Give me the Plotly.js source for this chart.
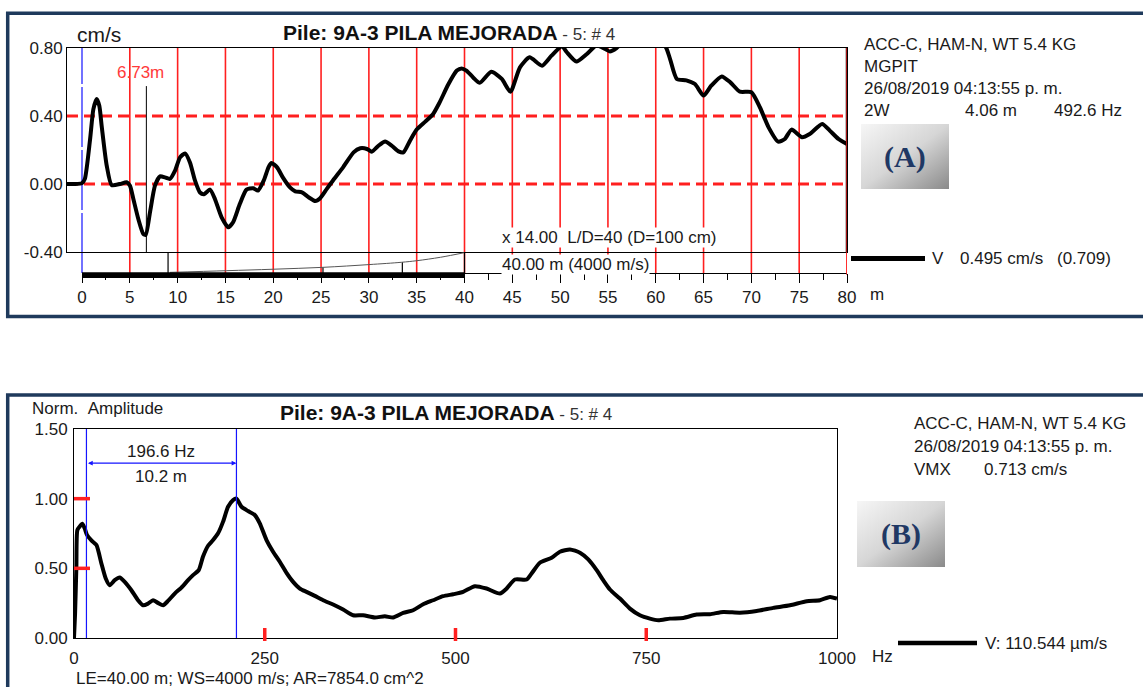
<!DOCTYPE html>
<html><head><meta charset="utf-8">
<script src="https://cdn.plot.ly/plotly-3.0.1.min.js"></script>
<style>html,body{margin:0;padding:0;background:#fff;overflow:hidden}#chart{width:1143px;height:687px}</style>
</head><body><div id="chart"></div>
<script>
// ---------- DATA: chart A (velocity vs depth) ----------
const distA = [-1.57,-0.8,0,0.3,0.84,1.19,1.53,1.81,2.06,2.58,3.1,3.97,4.67,5.02,5.37,5.89,6.41,6.66,7.11,7.63,8.16,8.68,9.2,9.73,10.25,10.77,11.29,11.82,12.34,12.76,13.39,13.9,14.6,15.3,15.8,16.5,17.2,17.9,18.4,19.0,19.5,19.8,20.4,21.0,21.75,22.3,23.0,23.7,24.4,24.9,25.6,26.3,27.3,28.4,29.1,29.8,30.3,31.0,31.7,32.4,33.1,33.6,34.3,35.0,35.9,36.7,37.4,38.3,39.2,39.7,40.2,40.9,41.6,42.8,43.9,44.8,45.8,46.8,48.1,49.1,50.2,50.7,51.7,52.8,53.8,54.7,55.2,55.9,57,58.5,60,61.1,61.5,62.2,63.2,64.1,65.0,65.8,66.9,67.8,68.8,70.0,70.9,71.8,72.8,73.5,74.2,75.3,76.1,77.4,78.2,79.1,80];
const velA = [0,0,0.005,0.03,0.26,0.44,0.50,0.46,0.34,0.11,-0.006,0.0,0.01,-0.01,-0.088,-0.206,-0.294,-0.30,-0.167,-0.01,0.045,0.039,0.03,0.078,0.157,0.18,0.127,0.02,-0.05,-0.06,-0.033,-0.088,-0.196,-0.255,-0.225,-0.118,-0.033,-0.025,-0.039,0.02,0.098,0.124,0.098,0.039,-0.02,-0.043,-0.049,-0.078,-0.10,-0.084,-0.029,0.025,0.098,0.186,0.21,0.206,0.19,0.225,0.25,0.225,0.192,0.186,0.255,0.32,0.367,0.41,0.48,0.585,0.667,0.68,0.667,0.627,0.595,0.66,0.618,0.543,0.686,0.745,0.696,0.755,0.81,0.775,0.72,0.765,0.815,0.794,0.78,0.80,0.86,0.90,0.88,0.80,0.735,0.618,0.61,0.588,0.52,0.578,0.633,0.598,0.543,0.54,0.45,0.333,0.249,0.265,0.32,0.275,0.294,0.353,0.314,0.265,0.235];
// amplification curve in the ruler strip (relative height 0..1)
const ampDist = [9.2,15.1,20,25.2,30,33.4,35,37.5,40];
const ampCurve = [0.03,0.11,0.18,0.27,0.40,0.51,0.585,0.75,0.97];
const gridA = [5,10,15,20,25,30,35,40,45,50,55,60,65,70,75,80];
const refLinesA = [0, 0.4];
const yTicksA = [-0.4, 0, 0.4, 0.8];
const yTickTextA = ['-0.40','0.00','0.40','0.80'];
const markerA = 6.73;           // depth marker
const markerTopA = 0.576;
const pileLenA = [0, 40];        // toe bar
const rulerMarks = [[9.0,1.0],[25.2,0.25],[33.5,0.5],[40,1.0]];

// ---------- DATA: chart B (normalized spectrum) ----------
const freqB = [0,1.4,3.1,4.4,7.5,11,14,17,22.8,29.4,35.9,41.6,46.8,53.4,59.9,66.5,75.2,83.9,90.5,97,103.6,110,116.7,123.2,132,140.8,149.5,156,163.5,169,175.7,182.3,188.8,195.4,201.9,208.5,212.9,219.5,228.2,236.9,243.5,252.3,260.9,269.7,278.5,287.2,296,304.7,315.6,326.5,339.6,352.7,365.8,378.9,394.2,407.4,418.3,431.4,444.5,457.6,470.7,483.8,497,510,525.4,540.7,558.2,567,577.8,593.2,599.7,610.6,626,636.9,650,663.1,674,685,693.6,702.4,715.5,728.6,741.7,754.8,765.7,781,798.5,816,833.5,850.9,872.8,894.7,916.5,938.4,960.3,977.7,990.8,1000];
const ampB = [0,0.175,0.51,0.775,0.80,0.82,0.787,0.74,0.70,0.667,0.535,0.427,0.379,0.415,0.434,0.403,0.343,0.271,0.235,0.247,0.271,0.252,0.235,0.266,0.319,0.362,0.415,0.451,0.487,0.583,0.662,0.703,0.751,0.835,0.942,0.99,1.0,0.942,0.911,0.883,0.823,0.703,0.619,0.547,0.468,0.403,0.355,0.331,0.302,0.271,0.24,0.204,0.163,0.163,0.147,0.156,0.147,0.18,0.199,0.242,0.271,0.30,0.314,0.331,0.372,0.355,0.319,0.355,0.42,0.42,0.463,0.54,0.576,0.619,0.636,0.612,0.564,0.487,0.415,0.348,0.283,0.211,0.163,0.139,0.127,0.139,0.144,0.168,0.171,0.187,0.182,0.194,0.216,0.235,0.264,0.271,0.295,0.283];
const xTicksB = [0,250,500,750,1000];
const yTicksB = [0,0.5,1.0,1.5];
const yTickTextB = ['0.00','0.50','1.00','1.50'];
const cursorsB = [16.3, 212.9];   // 196.6 Hz apart
const cursorLevelB = 1.255;
const redMarksXB = [250,500,750];
const redMarksYB = [0.5,1.0];

// ---------- LAYOUT helpers ----------
const W = 1143, H = 687;
const px = x => x / W, py = y => 1 - y / H;
const FONT = 'Liberation Sans, Arial, Helvetica, sans-serif';
const NAVY = '#1f3a5c', RED = '#ff1f1f', BLUE = '#1414ff', TXT = '#1a1a1a';

function ann(text, x, y, o) {
  return Object.assign({text: text, xref: 'paper', yref: 'paper', x: px(x), y: py(y),
    xanchor: 'left', yanchor: 'middle', showarrow: false, font: {size: 17, color: TXT}}, o || {});
}

const traces = [
  {x: distA, y: velA, xaxis: 'x', yaxis: 'y', mode: 'lines', line: {color: '#000', width: 4, shape: 'spline', smoothing: 0.6}, hoverinfo: 'skip'},
  {x: ampDist, y: ampCurve, xaxis: 'x3', yaxis: 'y3', mode: 'lines', line: {color: '#555', width: 1, shape: 'spline'}, hoverinfo: 'skip'},
  {x: freqB, y: ampB, xaxis: 'x2', yaxis: 'y2', mode: 'lines', line: {color: '#000', width: 4, shape: 'spline', smoothing: 0.6}, hoverinfo: 'skip'}
];

const shapes = [];
// panel borders
shapes.push({type: 'rect', xref: 'paper', yref: 'paper', x0: px(7.7), x1: px(1160), y0: py(316.5), y1: py(13.3), line: {color: NAVY, width: 3.5}});
shapes.push({type: 'rect', xref: 'paper', yref: 'paper', x0: px(7.7), x1: px(1160), y0: py(720), y1: py(395), line: {color: NAVY, width: 3.5}});
// chart A red verticals (grid every 5 m) from top of plot to ruler axis
gridA.forEach(v => shapes.push({type: 'line', xref: 'x', yref: 'paper', x0: v, x1: v, y0: py(273), y1: py(48), line: {color: RED, width: 1.6}, layer: 'below'}));
// blue line at 0
shapes.push({type: 'line', xref: 'x', yref: 'paper', x0: 0, x1: 0, y0: py(273), y1: py(48), line: {color: BLUE, width: 1.2, dash: '60px,3px'}, layer: 'below'});
// red dashed reference levels
refLinesA.forEach(v => shapes.push({type: 'line', xref: 'x domain', yref: 'y', x0: 0, x1: 1, y0: v, y1: v, line: {color: RED, width: 2.8, dash: '11px,6px'}, layer: 'below'}));
// depth marker line
shapes.push({type: 'line', xref: 'x', yref: 'y', x0: markerA, x1: markerA, y0: -0.4, y1: markerTopA, line: {color: '#000', width: 1}});
// ruler marks
rulerMarks.forEach(m => shapes.push({type: 'line', xref: 'x3', yref: 'y3', x0: m[0], x1: m[0], y0: 0, y1: m[1], line: {color: '#000', width: 1.2}}));
// thick toe bar
shapes.push({type: 'rect', xref: 'x3', yref: 'paper', x0: pileLenA[0], x1: pileLenA[1], y0: py(278), y1: py(272.3), fillcolor: '#000', line: {width: 0}});
// thick right frame edge of A
shapes.push({type: 'line', xref: 'x', yref: 'y domain', x0: 80, x1: 80, y0: 0, y1: 1, line: {color: '#000', width: 2.5}});
shapes.push({type: 'line', xref: 'x', yref: 'paper', x0: 80, x1: 80, y0: py(275), y1: py(48), line: {color: RED, width: 1.3}});
// legend lines
shapes.push({type: 'line', xref: 'paper', yref: 'paper', x0: px(851), x1: px(925), y0: py(258.5), y1: py(258.5), line: {color: '#000', width: 5}});
shapes.push({type: 'line', xref: 'paper', yref: 'paper', x0: px(898), x1: px(977), y0: py(643), y1: py(643), line: {color: '#000', width: 4.5}});
// chart B cursors
cursorsB.forEach(v => shapes.push({type: 'line', xref: 'x2', yref: 'y2 domain', x0: v, x1: v, y0: 0, y1: 1, line: {color: BLUE, width: 1.2}}));
// chart B red marks
redMarksYB.forEach(v => shapes.push({type: 'line', xref: 'x2', yref: 'y2', x0: 0, x1: 21, y0: v, y1: v, line: {color: RED, width: 3.5}}));
redMarksXB.forEach(v => shapes.push({type: 'line', xref: 'x2', yref: 'paper', x0: v, x1: v, y0: py(641), y1: py(628), line: {color: RED, width: 3.5}}));

const gradSvg = "<svg xmlns='http://www.w3.org/2000/svg' width='88' height='66'><defs><linearGradient id='g' x1='0' y1='0' x2='1' y2='1'><stop offset='0' stop-color='#f6f6f6'/><stop offset='0.5' stop-color='#d6d6d6'/><stop offset='1' stop-color='#8a8a8a'/></linearGradient></defs><rect width='88' height='66' fill='url(#g)'/></svg>";
const gradSrc = 'data:image/svg+xml;charset=utf-8,' + encodeURIComponent(gradSvg);

const titleTxt = '<b>Pile: 9A-3 PILA MEJORADA</b><span style="font-size:17px;color:#333"> - 5: # 4</span>';
const sp = '\u00a0';

const annotations = [
  ann('cm/s', 75, 34, {font: {size: 21, color: TXT}}),
  ann('6.73m', 115, 72, {font: {size: 17, color: '#ff3a3a'}}),
  ann('x 14.00' + sp + sp + 'L/D=40 (D=100 cm)', 501, 237, {bgcolor: '#fff', borderpad: 0}),
  ann('40.00 m (4000 m/s)', 501, 264, {bgcolor: '#fff', borderpad: 0}),
  ann('ACC-C, HAM-N, WT 5.4 KG', 862, 44),
  ann('MGPIT', 862, 66),
  ann('26/08/2019 04:13:55 p. m.', 862, 88),
  ann('2W', 862, 110), ann('4.06 m', 963, 110), ann('492.6 Hz', 1052, 110),
  ann('<b>(A)</b>', 905, 157, {xanchor: 'center', font: {family: 'Liberation Serif, Times New Roman, serif', size: 30, color: '#1f3864'}}),
  ann('V', 930, 258), ann('0.495 cm/s', 958, 258), ann('(0.709)', 1055, 258),
  ann('m', 868, 295),
  ann(titleTxt, 278, 412, {font: {size: 21, color: '#111'}}),
  ann('Norm.' + sp + sp + 'Amplitude', 30, 408),
  ann('ACC-C, HAM-N, WT 5.4 KG', 912, 423),
  ann('26/08/2019 04:13:55 p. m.', 912, 446),
  ann('VMX', 912, 469), ann('0.713 cm/s', 982, 469),
  ann('<b>(B)</b>', 901, 534, {xanchor: 'center', font: {family: 'Liberation Serif, Times New Roman, serif', size: 30, color: '#1f3864'}}),
  ann('V: 110.544 µm/s', 983, 643),
  ann('Hz', 870, 656),
  ann('LE=40.00 m; WS=4000 m/s; AR=7854.0 cm^2', 74, 678, {yanchor: 'middle'}),
  // cursor spacing labels (data coords)
  {text: '196.6 Hz', xref: 'x2', yref: 'y2', x: (cursorsB[0] + cursorsB[1]) / 2, y: 1.338, showarrow: false, xanchor: 'center', yanchor: 'middle', font: {size: 17, color: TXT}},
  {text: '10.2 m', xref: 'x2', yref: 'y2', x: (cursorsB[0] + cursorsB[1]) / 2, y: 1.158, showarrow: false, xanchor: 'center', yanchor: 'middle', font: {size: 17, color: TXT}},
  {text: '', xref: 'x2', yref: 'y2', x: cursorsB[1], y: cursorLevelB, axref: 'x2', ayref: 'y2', ax: cursorsB[0], ay: cursorLevelB,
   showarrow: true, arrowside: 'end+start', arrowhead: 2, arrowsize: 0.8, arrowwidth: 1.2, arrowcolor: BLUE, standoff: 0, startstandoff: 0}
];

const axBase = {showgrid: false, zeroline: false, fixedrange: true, linecolor: '#000', linewidth: 1, tickfont: {size: 17, color: TXT}};

const layout = {
  width: W, height: H, margin: {l: 0, r: 0, t: 0, b: 0, pad: 0},
  paper_bgcolor: '#fff', plot_bgcolor: 'rgba(0,0,0,0)',
  font: {family: FONT, size: 17, color: TXT},
  showlegend: false,
  title: {text: titleTxt, x: px(283), xanchor: 'left', y: py(33), yanchor: 'middle', font: {size: 21, color: '#111'}, pad: {t: 0, b: 0, l: 0, r: 0}},
  xaxis: Object.assign({}, axBase, {domain: [px(67), px(847)], range: [-15 / 9.5625, 80], anchor: 'y', showline: true, mirror: true, ticks: '', showticklabels: false}),
  yaxis: Object.assign({}, axBase, {domain: [py(252), py(48)], range: [-0.4, 0.8], anchor: 'x', showline: true, mirror: true, ticks: '', tickmode: 'array', tickvals: yTicksA, ticktext: yTickTextA, ticklabelstandoff: 0}),
  xaxis3: Object.assign({}, axBase, {domain: [px(82), px(847)], range: [0, 80], anchor: 'y3', showline: true, ticks: 'outside', ticklen: 9, tickwidth: 1, tickcolor: '#000', tickmode: 'linear', tick0: 0, dtick: 5, ticklabelstandoff: 0,
    minor: {tick0: 0, dtick: 2.5, ticks: 'outside', ticklen: 6, tickwidth: 1, tickcolor: '#000', showgrid: false}}),
  yaxis3: {domain: [py(273), py(252)], range: [0, 1], anchor: 'x3', visible: false, fixedrange: true},
  xaxis2: Object.assign({}, axBase, {domain: [px(74), px(837)], range: [0, 1000], anchor: 'y2', showline: true, mirror: true, ticks: '', tickmode: 'array', tickvals: xTicksB, ticklabelstandoff: 5}),
  yaxis2: Object.assign({}, axBase, {domain: [py(638), py(429)], range: [0, 1.5], anchor: 'x2', showline: true, mirror: true, ticks: '', tickmode: 'array', tickvals: yTicksB, ticktext: yTickTextB, ticklabelstandoff: 2}),
  shapes: shapes,
  annotations: annotations,
  images: [
    {source: gradSrc, xref: 'paper', yref: 'paper', x: px(861), y: py(124), sizex: 88 / W, sizey: 65 / H, xanchor: 'left', yanchor: 'top', sizing: 'stretch', layer: 'above'},
    {source: gradSrc, xref: 'paper', yref: 'paper', x: px(857), y: py(501), sizex: 88 / W, sizey: 66 / H, xanchor: 'left', yanchor: 'top', sizing: 'stretch', layer: 'above'}
  ]
};

Plotly.newPlot('chart', traces, layout, {staticPlot: true, displayModeBar: false});
</script></body></html>
